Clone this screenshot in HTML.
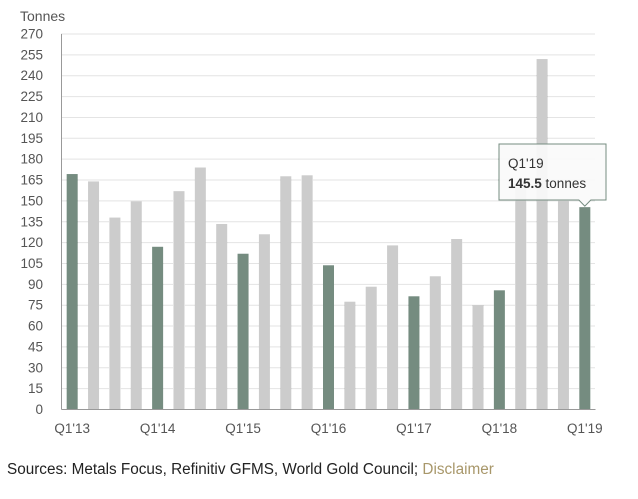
<!DOCTYPE html>
<html><head><meta charset="utf-8"><style>
html,body{margin:0;padding:0;background:#fff;width:638px;height:499px;overflow:hidden;font-family:"Liberation Sans",Arial,sans-serif}
#src{position:absolute;left:7px;top:461px;font-size:15.3px;color:#222;white-space:nowrap}
#src span{color:#a8976a}
</style></head><body>
<svg id="chart" width="638" height="450" style="position:absolute;left:0;top:0"></svg>
<div id="src">Sources: Metals Focus, Refinitiv GFMS, World Gold Council; <span>Disclaimer</span></div>
<script>
const categories=["Q1'13","Q2'13","Q3'13","Q4'13","Q1'14","Q2'14","Q3'14","Q4'14","Q1'15","Q2'15","Q3'15","Q4'15","Q1'16","Q2'16","Q3'16","Q4'16","Q1'17","Q2'17","Q3'17","Q4'17","Q1'18","Q2'18","Q3'18","Q4'18","Q1'19"];
const values=[169.3,164,138,149.7,117,157,174,133.4,112,126,167.7,168.4,103.7,77.5,88.3,118,81.4,95.8,122.6,75.1,85.7,160,252,150,145.5];
const yTicks=[0,15,30,45,60,75,90,105,120,135,150,165,180,195,210,225,240,255,270];
const xLabels=["Q1'13","Q1'14","Q1'15","Q1'16","Q1'17","Q1'18","Q1'19"];
const NS="http://www.w3.org/2000/svg";
const svg=document.getElementById('chart');
const L=61.5,R=595.5,T=34,B=409.5,yMax=270;
const band=(R-L)/categories.length;
const y=v=>B-(v/yMax)*(B-T);
const x=i=>L+band*i+band/2;
function mk(t,a){const e=document.createElementNS(NS,t);for(const k in a)e.setAttribute(k,a[k]);svg.appendChild(e);return e;}
let t=mk('text',{x:20,y:21,'font-size':14,fill:'#555'});t.textContent='Tonnes';


yTicks.forEach(v=>{
  if(v>0){const g=mk('line',{x1:L,x2:R,y1:y(v),y2:y(v),stroke:'#c8c8c8','stroke-dasharray':'1,1'});
  
  }
  const l=mk('text',{x:43,y:y(v)+4.5,'font-size':13.5,fill:'#555','text-anchor':'end'});l.textContent=v;
  
  
});
values.forEach((v,i)=>{
  const dark=categories[i].startsWith("Q1");
  const r=mk('rect',{x:x(i)-5.5,y:y(v),width:11,height:B-y(v),fill:dark?'#758c80':'#cccccc'});
  
  
});
const ax=mk('line',{x1:L,x2:L,y1:T,y2:B,stroke:'#999'});


const bx=mk('line',{x1:L,x2:R,y1:B,y2:B,stroke:'#999'});


xLabels.forEach(c=>{
  const i=categories.indexOf(c);
  const l=mk('text',{x:x(i),y:433,'font-size':13.5,fill:'#555','text-anchor':'middle'});l.textContent=c;
  
  
});
const li=values.length-1,tx=x(li),ty=y(values[li]);
const tip=mk('path',{d:`M499,144 H606 V200 H${tx+6} L${tx},${ty-1} L${tx-6},200 H499 Z`,fill:'rgba(250,250,250,0.92)',stroke:'#758c80','stroke-width':1});


const t1=mk('text',{x:508,y:168,'font-size':13.5,fill:'#333'});t1.textContent=categories[li];


const t2=mk('text',{x:508,y:188,'font-size':13.5,fill:'#333'});
t2.innerHTML='<tspan font-weight="bold">'+values[li]+'</tspan> tonnes';


</script>
</body></html>
